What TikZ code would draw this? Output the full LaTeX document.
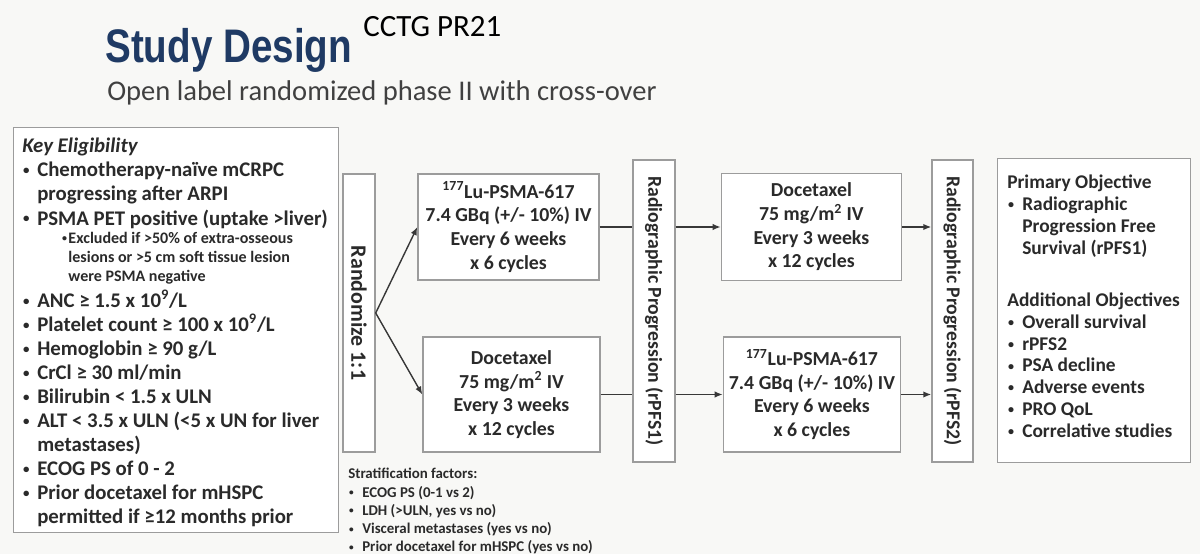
\documentclass[tikz,border=0pt]{standalone}
\usepackage{graphicx}
\usepackage{fontspec}
\setmainfont{Carlito}
\newfontfamily\headfont[FakeStretch=0.82]{Liberation Sans}
\usetikzlibrary{arrows.meta,positioning,calc}
\definecolor{sdnavy}{HTML}{1F3A64}
\definecolor{sdtext}{HTML}{2A2A2A}
\definecolor{sdframe}{HTML}{9C9C9C}
\definecolor{sdline}{HTML}{383838}
\definecolor{sdback}{HTML}{F8F8F6}
\newcommand\eligfont{\fontsize{14.8pt}{17.1pt}\selectfont\bfseries}
\newcommand\notefont{\fontsize{11.4pt}{13.5pt}\selectfont\bfseries}
\newcommand\armfont{\fontsize{14.1pt}{16.8pt}\selectfont\bfseries}
\newcommand\goalfont{\fontsize{13.8pt}{15.6pt}\selectfont\bfseries}
\newcommand\stratfont{\fontsize{10.6pt}{13pt}\selectfont\bfseries}
\newcommand\randfont{\fontsize{15.6pt}{18pt}\selectfont\bfseries}
\newcommand\rpfont{\fontsize{14pt}{16pt}\selectfont\bfseries}
\newcommand\dotmark{\raisebox{0.1em}{\scalebox{0.62}{\textbullet}}}
\newcommand\blt[1][3.75mm]{\makebox[#1][l]{\hspace{0.2mm}\dotmark}}
\newcommand\bind[1][3.75mm]{\hspace*{#1}}
\tikzset{
  panel/.style={draw=sdframe, line width=0.35mm, fill=white, inner sep=0pt},
  armbox/.style={panel, align=center, text=sdtext, font=\armfont},
  listtext/.style={align=left, inner sep=0pt, text=sdtext, anchor=north west},
  sidelabel/.style={rotate=-90, inner sep=0pt, text=sdtext},
  flowarrow/.style={-{Latex[length=2mm,width=1.6mm]}, line width=0.35mm, draw=sdline},
  flowline/.style={line width=0.35mm, draw=sdline}
}

\begin{document}
\begin{tikzpicture}[x=0.25mm, y=-0.25mm]
  \fill[sdback] (0,0) rectangle (1200,554);
  \useasboundingbox (0,0) rectangle (1200,554);

  % heading
  \node[anchor=base west, inner sep=0pt, text=sdnavy,
    font={\headfont\fontsize{33.5pt}{40pt}\selectfont\bfseries}] (title) at (105,62) {Study Design};
  \node[anchor=base west, inner sep=0pt, text=black,
    font={\fontsize{22pt}{24pt}\selectfont}] (trial) at (363,37) {CCTG PR21};
  \node[anchor=base west, inner sep=0pt, text=black!75,
    font={\fontsize{20.3pt}{24pt}\selectfont}] (subtitle) at (107,100) {Open label randomized phase II with cross-over};

  % eligibility
  \node[panel, anchor=north west, minimum width=81.25mm, minimum height=101.25mm] (elig) at (13,127) {};
  \node[listtext, font=\eligfont] (eligtop) at (22,138) {%
    {\itshape Key Eligibility}\\
    \blt Chemotherapy-naïve mCRPC\\
    \bind progressing after ARPI\\
    \blt PSMA PET positive (uptake >liver)};
  \node[listtext, font=\notefont] (elignote) at (61,232) {%
    \blt[1.8mm]Excluded if >50\% of extra-osseous\\
    \bind[1.8mm]lesions or >5 cm soft tissue lesion\\
    \bind[1.8mm]were PSMA negative};
  \node[listtext, font=\eligfont] (eliglab) at (22,290) {%
    \blt ANC ≥ 1.5 x 10\textsuperscript{9}/L\\
    \blt Platelet count ≥ 100 x 10\textsuperscript{9}/L\\
    \blt Hemoglobin ≥ 90 g/L\\
    \blt CrCl ≥ 30 ml/min\\
    \blt Bilirubin < 1.5 x ULN\\
    \blt ALT < 3.5 x ULN (<5 x UN for liver\\
    \bind metastases)\\
    \blt ECOG PS of 0 - 2\\
    \blt Prior docetaxel for mHSPC\\
    \bind permitted if ≥12 months prior};

  % randomisation and arms
  \node[panel, minimum width=8mm, minimum height=69.5mm] (rand) at (359,313) {};
  \node[sidelabel, font=\randfont] (randlbl) at (rand.center) {Randomize 1:1};
  \node[armbox, minimum width=45.25mm, minimum height=26.5mm] (armlu) at (508.5,227) {%
    \textsuperscript{177}Lu-PSMA-617\\7.4 GBq (+/- 10\%) IV\\Every 6 weeks\\x 6 cycles};
  \node[armbox, minimum width=44.25mm, minimum height=28.75mm] (armdoc) at (511.5,394.5) {%
    Docetaxel\\75 mg/m\textsuperscript{2} IV\\Every 3 weeks\\x 12 cycles};

  \node[panel, minimum width=10.5mm, minimum height=75.5mm] (rp1) at (654,311) {};
  \node[sidelabel, font=\rpfont] (rp1lbl) at (rp1.center) {Radiographic Progression (rPFS1)};

  % cross-over
  \node[armbox, minimum width=45mm, minimum height=26.75mm, right=30.25mm of armlu] (crossdoc) {%
    Docetaxel\\75 mg/m\textsuperscript{2} IV\\Every 3 weeks\\x 12 cycles};
  \node[armbox, minimum width=44.25mm, minimum height=28.75mm, right=30.5mm of armdoc] (crosslu) {%
    \textsuperscript{177}Lu-PSMA-617\\7.4 GBq (+/- 10\%) IV\\Every 6 weeks\\x 6 cycles};

  \node[panel, minimum width=10.25mm, minimum height=75.5mm] (rp2) at (952.5,311) {};
  \node[sidelabel, font=\rpfont] (rp2lbl) at (rp2.center) {Radiographic Progression (rPFS2)};

  % objectives
  \node[panel, anchor=north west, minimum width=48.25mm, minimum height=76mm] (goals) at (997,158) {};
  \node[listtext, font=\goalfont] (goaltxt) at (1007,175) {%
    Primary Objective\\
    \blt Radiographic\\
    \bind Progression Free\\
    \bind Survival (rPFS1)\\[21pt]
    Additional Objectives\\
    \blt Overall survival\\
    \blt rPFS2\\
    \blt PSA decline\\
    \blt Adverse events\\
    \blt PRO QoL\\
    \blt Correlative studies};

  % stratification
  \node[listtext, font=\stratfont] (strat) at (348,468) {%
    Stratification factors:\\
    \blt[3.5mm]ECOG PS (0-1 vs 2)\\
    \blt[3.5mm]LDH (>ULN, yes vs no)\\
    \blt[3.5mm]Visceral metastases (yes vs no)\\
    \blt[3.5mm]Prior docetaxel for mHSPC (yes vs no)};

  % connectors
  \draw[flowarrow] (rand.east) -- (armlu.west);
  \draw[flowarrow] (rand.east) -- (armdoc.west);
  \draw[flowline] (armlu.east) -- (armlu.east -| rp1.west);
  \draw[flowline] (armdoc.east) -- (armdoc.east -| rp1.west);
  \draw[flowarrow] (crossdoc.west -| rp1.east) -- (crossdoc.west);
  \draw[flowarrow] (crosslu.west -| rp1.east) -- (crosslu.west);
  \draw[flowarrow] (crossdoc.east) -- (crossdoc.east -| rp2.west);
  \draw[flowarrow] (crosslu.east) -- (crosslu.east -| rp2.west);
\end{tikzpicture}
\end{document}
